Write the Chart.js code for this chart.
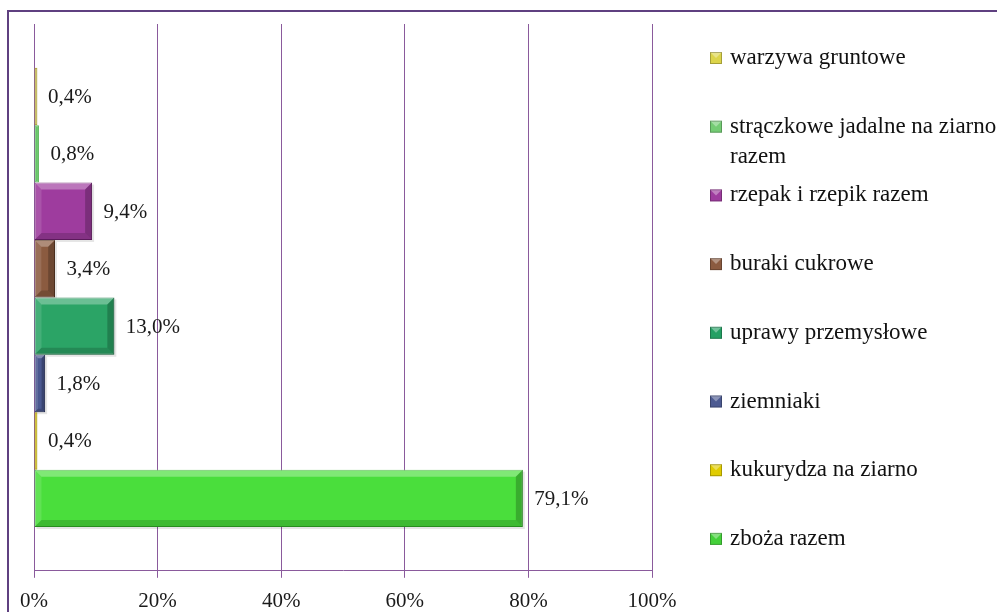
<!DOCTYPE html>
<html>
<head>
<meta charset="utf-8">
<script src="https://cdn.jsdelivr.net/npm/chart.js@4/dist/chart.umd.min.js"></script>
<style>
  html, body { margin: 0; padding: 0; background: #ffffff; }
  #wrap { position: relative; width: 997px; height: 612px; }
</style>
</head>
<body>
<div id="wrap"><canvas id="c" width="997" height="612"></canvas></div>
<script>
// ---- data ----
const seriesNames = [
  'warzywa gruntowe',
  'strączkowe jadalne na ziarno razem',
  'rzepak i rzepik razem',
  'buraki cukrowe',
  'uprawy przemysłowe',
  'ziemniaki',
  'kukurydza na ziarno',
  'zboża razem'
];
const seriesValues = [0.4, 0.8, 9.4, 3.4, 13.0, 1.8, 0.4, 79.1];
const barColors = ['#bcae3c', '#66c566', '#9e3c9e', '#8b5b40', '#2ba466', '#4a5890', '#c9b400', '#4ade3c'];
const borderColors = ['#a89c34', '#55b455', '#6e206e', '#5e3a26', '#187a46', '#2f3a68', '#a89600', '#2fa825'];
const legendColors = ['#dcd44a', '#74cc74', '#9e3c9e', '#8b5b40', '#24a064', '#4d5b92', '#e0cc00', '#44d03a'];
const xTicks = [0, 20, 40, 60, 80, 100];
const categories = [''];

const FONT = '"Liberation Serif", "Times New Roman", serif';
const PURPLE = '#8a5a9c';

const fmt = v => v.toFixed(1).replace('.', ',') + '%';

const bevelPlugin = {
  id: 'bevel',
  afterDatasetsDraw(chart) {
    const ctx = chart.ctx;
    chart.data.datasets.forEach((ds, i) => {
      const meta = chart.getDatasetMeta(i);
      meta.data.forEach(el => {
        const l = Math.min(el.base, el.x), r = Math.max(el.base, el.x);
        const t = el.y - el.height / 2, b = el.y + el.height / 2;
        const s = Math.min(7, (r - l) / 3, el.height / 4);
        if (s < 1.5) return;
        ctx.save();
        const poly = (pts, fill) => {
          ctx.beginPath();
          ctx.moveTo(pts[0][0], pts[0][1]);
          for (let k = 1; k < pts.length; k++) ctx.lineTo(pts[k][0], pts[k][1]);
          ctx.closePath();
          ctx.fillStyle = fill;
          ctx.fill();
        };
        poly([[l, t], [r, t], [r - s, t + s], [l + s, t + s]], 'rgba(255,255,255,0.30)');
        poly([[l, t], [l + s, t + s], [l + s, b - s], [l, b]], 'rgba(255,255,255,0.12)');
        poly([[l, b], [l + s, b - s], [r - s, b - s], [r, b]], 'rgba(0,0,0,0.16)');
        poly([[r, t], [r, b], [r - s, b - s], [r - s, t + s]], 'rgba(0,0,0,0.22)');
        ctx.restore();
      });
    });
  }
};

const shadowPlugin = {
  id: 'shadow',
  beforeDatasetsDraw(chart) {
    const ctx = chart.ctx;
    ctx.save();
    ctx.fillStyle = 'rgba(0,0,0,0.10)';
    chart.data.datasets.forEach((ds, i) => {
      chart.getDatasetMeta(i).data.forEach(el => {
        const l = Math.min(el.base, el.x), r = Math.max(el.base, el.x);
        const t = el.y - el.height / 2;
        if (r - l > 6) ctx.fillRect(l + 2, t + 2, r - l, el.height);
      });
    });
    ctx.restore();
  }
};

const labelPlugin = {
  id: 'valueLabels',
  afterDatasetsDraw(chart) {
    const ctx = chart.ctx;
    ctx.save();
    ctx.font = '21px ' + FONT;
    ctx.fillStyle = '#1a1a1a';
    ctx.textAlign = 'left';
    ctx.textBaseline = 'middle';
    const xs = chart.scales.x;
    chart.data.datasets.forEach((ds, i) => {
      chart.getDatasetMeta(i).data.forEach((el, j) => {
        ctx.fillText(fmt(ds.data[j]), xs.getPixelForValue(ds.data[j]) + 11.5, el.y + 1);
      });
    });
    ctx.restore();
  }
};

const legendPlugin = {
  id: 'sideLegend',
  afterDraw(chart) {
    const ctx = chart.ctx;
    ctx.save();
    ctx.font = '23px ' + FONT;
    ctx.textBaseline = 'middle';
    ctx.textAlign = 'left';
    const x0 = 710, tx = 730, y0 = 58, pitch = 68.7, lh = 30, maxW = 272;
    seriesNames.forEach((name, i) => {
      const yc = y0 + i * pitch;
      ctx.fillStyle = legendColors[i];
      ctx.fillRect(x0, yc - 6, 12, 12);
      ctx.fillStyle = 'rgba(255,255,255,0.35)';
      ctx.beginPath();
      ctx.moveTo(x0, yc - 6); ctx.lineTo(x0 + 12, yc - 6); ctx.lineTo(x0 + 6, yc); ctx.closePath();
      ctx.fill();
      ctx.strokeStyle = 'rgba(0,0,0,0.25)';
      ctx.lineWidth = 1;
      ctx.strokeRect(x0 + 0.5, yc - 5.5, 11, 11);
      ctx.fillStyle = '#111111';
      const words = name.split(' ');
      const lines = [];
      let cur = '';
      words.forEach(w => {
        const test = cur ? cur + ' ' + w : w;
        if (ctx.measureText(test).width > maxW && cur) { lines.push(cur); cur = w; }
        else cur = test;
      });
      if (cur) lines.push(cur);
      lines.forEach((ln, k) => ctx.fillText(ln, tx, yc + k * lh));
    });
    ctx.strokeStyle = '#5f4080';
    ctx.lineWidth = 2;
    ctx.strokeRect(8, 11, 1100, 700);
    ctx.restore();
  }
};

new Chart(document.getElementById('c'), {
  type: 'bar',
  data: {
    labels: categories,
    datasets: seriesNames.map((n, i) => ({
      label: n,
      data: [seriesValues[i]],
      backgroundColor: barColors[i],
      borderColor: borderColors[i],
      borderWidth: 1,
      borderSkipped: false,
      minBarLength: 3.4,
      categoryPercentage: 0.84,
      barPercentage: 1.0
    }))
  },
  options: {
    indexAxis: 'y',
    responsive: false,
    animation: false,
    devicePixelRatio: 1,
    layout: { padding: { left: 26, right: 345, top: 24, bottom: -13 } },
    plugins: { legend: { display: false }, tooltip: { enabled: false } },
    scales: {
      x: {
        min: 0, max: 100,
        afterBuildTicks: axis => { axis.ticks = xTicks.map(v => ({ value: v })); },
        ticks: {
          callback: v => v + '%',
          font: { family: FONT, size: 21 },
          color: '#1a1a1a',
          padding: 11
        },
        grid: { color: PURPLE, lineWidth: 1, tickLength: 7, drawTicks: true },
        border: { display: true, color: PURPLE, width: 1 }
      },
      y: {
        ticks: { display: false },
        grid: { display: false },
        border: { display: false }
      }
    }
  },
  plugins: [shadowPlugin, bevelPlugin, labelPlugin, legendPlugin]
});
</script>
</body>
</html>
